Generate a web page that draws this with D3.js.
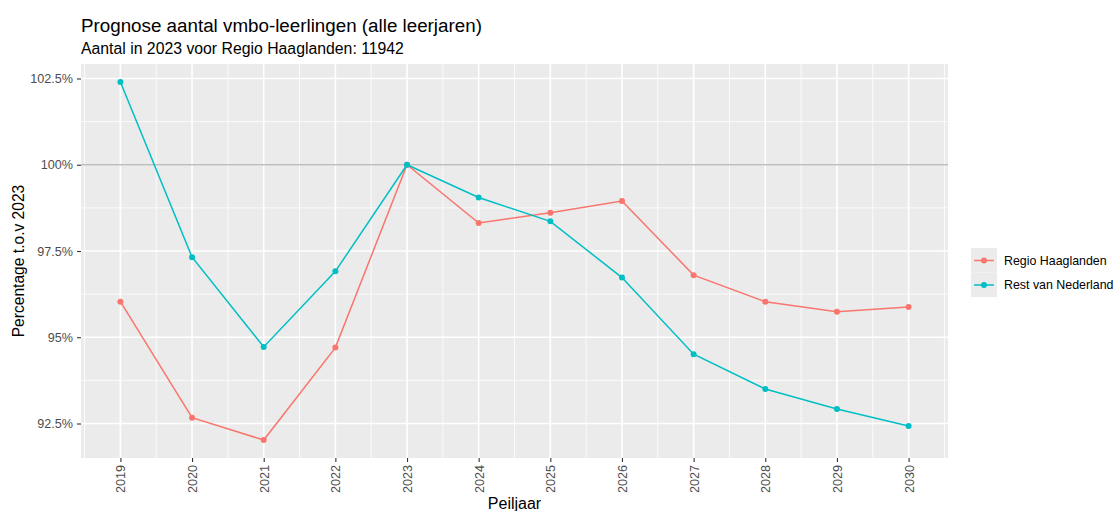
<!DOCTYPE html>
<html>
<head>
<meta charset="utf-8">
<script src="https://cdn.jsdelivr.net/npm/d3@7"></script>
<style>
  body { margin: 0; background: #fff; }
  text { font-family: "Liberation Sans", Arial, sans-serif; }
</style>
</head>
<body>
<script>
const years = [2019, 2020, 2021, 2022, 2023, 2024, 2025, 2026, 2027, 2028, 2029, 2030];
const haaglanden = [96.03, 92.67, 92.02, 94.70, 100, 98.31, 98.61, 98.95, 96.80, 96.03, 95.74, 95.88];
const rest = [102.40, 97.32, 94.72, 96.91, 100, 99.05, 98.36, 96.73, 94.51, 93.50, 92.92, 92.43];
const seriesNames = ['Regio Haaglanden', 'Rest van Nederland'];
const seriesColors = ['#F8766D', '#00BFC4'];
const yTicks = [92.5, 95, 97.5, 100, 102.5];
const yMinor = [93.75, 96.25, 98.75, 101.25];

const w = 1114, h = 511;
const marginTop = 64, marginBottom = 53, marginLeft = 81, marginRight = 166;

const svg = d3.select('body').append('svg').attr('width', w).attr('height', h);

const x = d3.scaleLinear().domain([2018.45, 2030.55]).range([marginLeft, w - marginRight]);
const y = d3.scaleLinear().domain([91.5, 102.92]).range([h - marginBottom, marginTop]);

// panel
svg.append('rect')
    .attr('x', marginLeft).attr('y', marginTop)
    .attr('width', w - marginRight - marginLeft).attr('height', h - marginBottom - marginTop)
    .attr('fill', '#EBEBEB');

const grid = svg.append('g').attr('stroke', '#fff');
const xMinor = years.map(d => d - 0.5).concat([years.at(-1) + 0.5]);
grid.selectAll('.ymin').data(yMinor).join('line')
    .attr('x1', marginLeft).attr('x2', w - marginRight)
    .attr('y1', d => y(d)).attr('y2', d => y(d))
    .attr('stroke-width', 0.8);
grid.selectAll('.xmin').data(xMinor).join('line')
    .attr('y1', marginTop).attr('y2', h - marginBottom)
    .attr('x1', d => x(d)).attr('x2', d => x(d))
    .attr('stroke-width', 0.8);
grid.selectAll('.ymaj').data(yTicks).join('line')
    .attr('x1', marginLeft).attr('x2', w - marginRight)
    .attr('y1', d => y(d)).attr('y2', d => y(d))
    .attr('stroke-width', 1.6);
grid.selectAll('.xmaj').data(years).join('line')
    .attr('y1', marginTop).attr('y2', h - marginBottom)
    .attr('x1', d => x(d)).attr('x2', d => x(d))
    .attr('stroke-width', 1.6);

// reference line at 100%
svg.append('line')
    .attr('x1', marginLeft).attr('x2', w - marginRight)
    .attr('y1', y(100)).attr('y2', y(100))
    .attr('stroke', '#BEBEBE').attr('stroke-width', 1.3);

// axes
const xAxis = svg.append('g')
    .attr('transform', `translate(0, ${h - marginBottom})`)
    .call(d3.axisBottom(x).tickValues(years).tickFormat(d3.format('d')).tickSize(4).tickPadding(3));
xAxis.selectAll('text')
    .attr('transform', 'rotate(-90)')
    .attr('x', -7).attr('y', 0).attr('dy', '0.35em')
    .attr('text-anchor', 'end');

const yAxis = svg.append('g')
    .attr('transform', `translate(${marginLeft}, 0)`)
    .call(d3.axisLeft(y).tickValues(yTicks).tickFormat(d => d + '%').tickSize(4).tickPadding(4));

[xAxis, yAxis].forEach(a => {
    a.select('.domain').remove();
    a.selectAll('line').attr('stroke', '#333333').attr('stroke-width', 1.1);
    a.selectAll('text').attr('fill', '#4D4D4D').style('font-size', '12.6px')
        .style('font-family', '"Liberation Sans", Arial, sans-serif');
});

// series
const data = [haaglanden, rest];
const line = d3.line().x((d, i) => x(years[i])).y(d => y(d));
data.forEach((vals, k) => {
    svg.append('path')
        .datum(vals)
        .attr('fill', 'none')
        .attr('stroke', seriesColors[k])
        .attr('stroke-width', 1.5)
        .attr('d', line);
    svg.append('g')
        .selectAll('circle')
        .data(vals)
        .join('circle')
        .attr('cx', (d, i) => x(years[i]))
        .attr('cy', d => y(d))
        .attr('r', 3)
        .attr('fill', seriesColors[k]);
});

// titles
svg.append('text')
    .attr('x', marginLeft).attr('y', 32)
    .style('font-size', '18.8px').attr('fill', '#000')
    .text('Prognose aantal vmbo-leerlingen (alle leerjaren)');
svg.append('text')
    .attr('x', marginLeft).attr('y', 54)
    .style('font-size', '15.8px').attr('fill', '#000')
    .text('Aantal in 2023 voor Regio Haaglanden: 11942');

svg.append('text')
    .attr('transform', `translate(24, ${(marginTop + h - marginBottom) / 2}) rotate(-90)`)
    .attr('text-anchor', 'middle')
    .style('font-size', '15.6px').attr('fill', '#000')
    .text('Percentage t.o.v 2023');
svg.append('text')
    .attr('x', (marginLeft + w - marginRight) / 2).attr('y', 509)
    .attr('text-anchor', 'middle')
    .style('font-size', '16px').attr('fill', '#000')
    .text('Peiljaar');

// legend
const legend = svg.append('g').attr('transform', 'translate(971, 248)');
seriesNames.forEach((name, k) => {
    const g = legend.append('g').attr('transform', `translate(0, ${k * 24.5})`);
    g.append('rect').attr('width', 26).attr('height', 24.5).attr('fill', '#EBEBEB');
    g.append('line').attr('x1', 3).attr('x2', 23).attr('y1', 12.5).attr('y2', 12.5)
        .attr('stroke', seriesColors[k]).attr('stroke-width', 1.5);
    g.append('circle').attr('cx', 13).attr('cy', 12.5).attr('r', 3).attr('fill', seriesColors[k]);
    g.append('text').attr('x', 33).attr('y', 12.5).attr('dy', '0.35em')
        .style('font-size', '12.4px').attr('fill', '#000').text(name);
});
</script>
</body>
</html>
